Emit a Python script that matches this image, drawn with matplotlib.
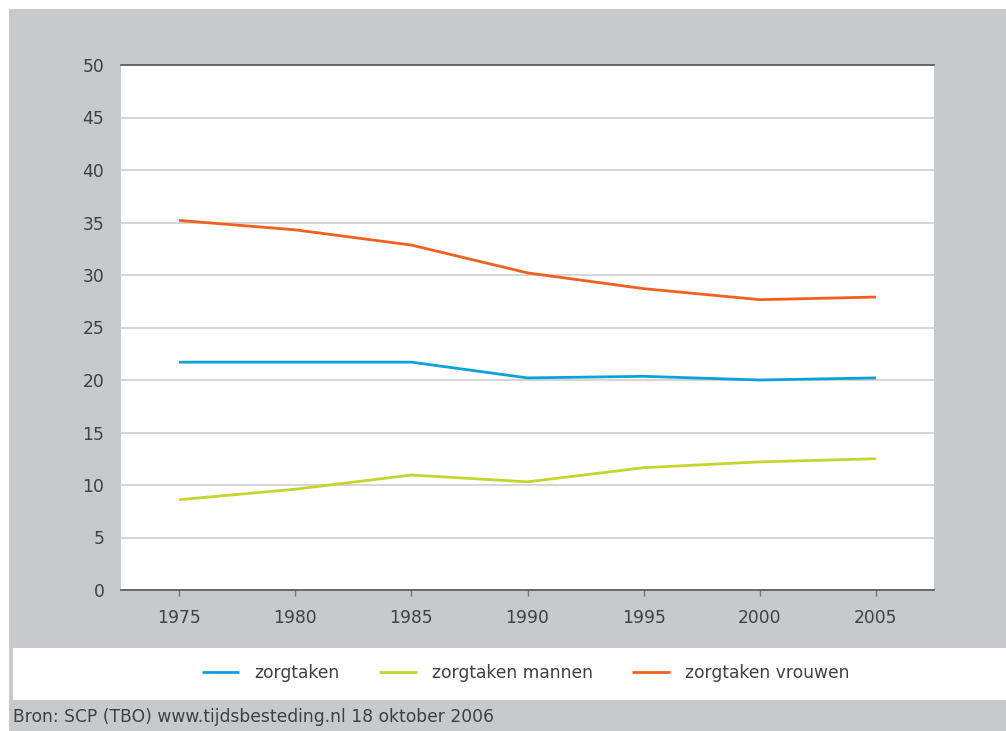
import matplotlib
matplotlib.use('Agg')
import matplotlib.pyplot as plt
from matplotlib.patches import Rectangle

# data
years = [1975, 1980, 1985, 1990, 1995, 2000, 2005]
zorgtaken = [21.7, 21.7, 21.7, 20.2, 20.35, 20.0, 20.2]
zorgtaken_mannen = [8.6, 9.6, 10.95, 10.3, 11.65, 12.2, 12.5]
zorgtaken_vrouwen = [35.2, 34.3, 32.85, 30.2, 28.7, 27.65, 27.9]

labels = ['zorgtaken', 'zorgtaken mannen', 'zorgtaken vrouwen']
colors = ['#0aa2dd', '#c5d52e', '#f0601f']
y_ticks = [0, 5, 10, 15, 20, 25, 30, 35, 40, 45, 50]
source = 'Bron: SCP (TBO) www.tijdsbesteding.nl 18 oktober 2006'

plt.rcParams['font.family'] = ['DejaVu Sans']

W, H = 1006, 731
FS = 12.3
TXT = '#404040'

fig = plt.figure(figsize=(W / 100, H / 100), dpi=100)
fig.patch.set_facecolor('white')

# grey panel and white legend strip
fig.add_artist(Rectangle((9 / W, 0), 1 - 9 / W, 1 - 9 / H, transform=fig.transFigure,
                         facecolor='#c8c9cb', edgecolor='none', zorder=0))
fig.add_artist(Rectangle((13 / W, 1 - 700 / H), 1 - 13 / W, 52 / H, transform=fig.transFigure,
                         facecolor='white', edgecolor='none', zorder=0))

ax = fig.add_axes([121 / W, 1 - 590 / H, (934 - 121) / W, (590 - 65) / H])
ax.set_facecolor('white')

for series, color, label in zip([zorgtaken, zorgtaken_mannen, zorgtaken_vrouwen], colors, labels):
    ax.plot(years, series, color=color, linewidth=2.0, label=label, zorder=3,
            solid_capstyle='butt')

ax.set_xlim(1972.5, 2007.5)
ax.set_ylim(0, 50)
ax.set_xticks(years)
ax.set_yticks(y_ticks)
ax.grid(axis='y', color='#d2d2d2', linewidth=1.3)
ax.set_axisbelow(True)

for side in ['left', 'right']:
    ax.spines[side].set_visible(False)
for side in ['top', 'bottom']:
    ax.spines[side].set_color('#555555')
    ax.spines[side].set_linewidth(1.2)

ax.tick_params(axis='x', length=4, width=1, color='#777777', pad=10,
               labelsize=FS, labelcolor=TXT)
ax.tick_params(axis='y', length=0, pad=12, labelsize=FS, labelcolor=TXT)

fig.legend(loc='center', bbox_to_anchor=(0.5225, 1 - 673 / H), ncol=3, frameon=False,
           fontsize=FS, handlelength=2.2, columnspacing=2.3, handletextpad=0.9,
           labelcolor=TXT)

fig.text(13 / W, 1 - 717 / H, source, fontsize=FS, color=TXT, va='center', ha='left')

fig.savefig('out.png', dpi=100)
